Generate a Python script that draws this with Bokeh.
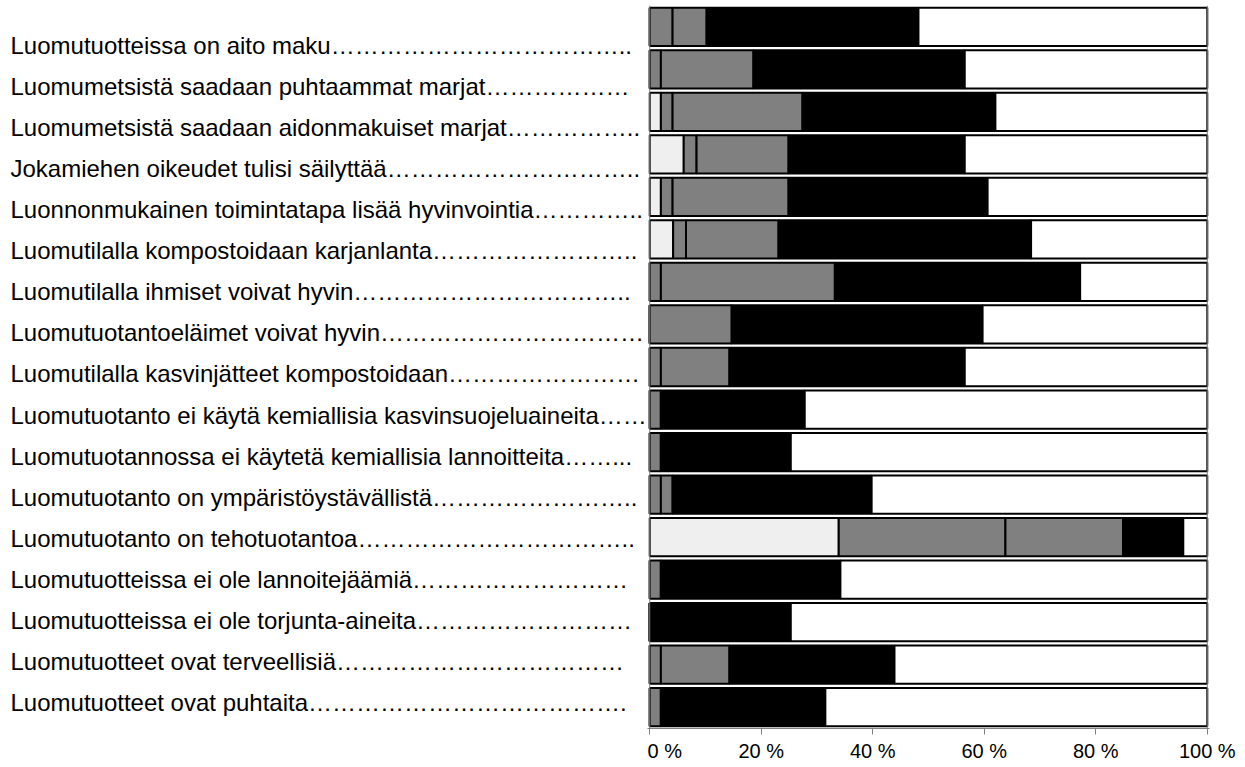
from bokeh.plotting import figure
from bokeh.models import ColumnDataSource, FactorRange, Range1d, FixedTicker, Span
from bokeh.layouts import row
from bokeh.core.properties import value
from bokeh.embed import file_html
from bokeh.resources import INLINE

E = "…"
labels = [
    "Luomutuotteissa on aito maku" + E * 12 + "..",
    "Luomumetsistä saadaan puhtaammat marjat" + E * 6,
    "Luomumetsistä saadaan aidonmakuiset marjat" + E * 5 + "..",
    "Jokamiehen oikeudet tulisi säilyttää" + E * 10 + "..",
    "Luonnonmukainen toimintatapa lisää hyvinvointia" + E * 4 + "..",
    "Luomutilalla kompostoidaan karjanlanta" + E * 8 + "..",
    "Luomutilalla ihmiset voivat hyvin" + E * 11 + "..",
    "Luomutuotantoeläimet voivat hyvin" + E * 11,
    "Luomutilalla kasvinjätteet kompostoidaan" + E * 8,
    "Luomutuotanto ei käytä kemiallisia kasvinsuojeluaineita" + E * 2,
    "Luomutuotannossa ei käytetä kemiallisia lannoitteita……...",
    "Luomutuotanto on ympäristöystävällistä" + E * 8 + "..",
    "Luomutuotanto on tehotuotantoa" + E * 11 + "..",
    "Luomutuotteissa ei ole lannoitejäämiä" + E * 9,
    "Luomutuotteissa ei ole torjunta-aineita" + E * 9,
    "Luomutuotteet ovat terveellisiä" + E * 12,
    "Luomutuotteet ovat puhtaita" + E * 13 + ".",
]

s1 = [0, 0, 2.0, 6.1, 2.0, 4.2, 0, 0, 0, 0, 0, 0, 33.9, 0, 0, 0, 0]
s2 = [4.1, 2.0, 2.1, 2.3, 2.1, 2.3, 2.0, 0, 2.0, 2.0, 2.0, 2.0, 29.9, 2.0, 0, 2.0, 2.0]
s3 = [6.1, 16.6, 23.3, 16.5, 20.8, 16.6, 31.2, 14.7, 12.3, 0, 0, 2.1, 21.1, 0, 0, 12.3, 0]
s4 = [38.0, 37.9, 34.6, 31.6, 35.7, 45.3, 44.0, 45.0, 42.2, 25.8, 23.3, 35.7, 10.8, 32.2, 25.3, 29.6, 29.5]
s5 = [51.8, 43.5, 38.0, 43.5, 39.4, 31.6, 22.8, 40.3, 43.5, 72.2, 74.7, 60.2, 4.3, 65.8, 74.7, 56.1, 68.5]

tick_values = [0, 20, 40, 60, 80, 100]
tick_labels = ["0 %", "20 %", "40 %", "60 %", "80 %", "100 %"]

seg_names = ["s1", "s2", "s3", "s4", "s5"]
seg_colors = ["#efefef", "#808080", "#808080", "#000000", "#ffffff"]

FONT = "Liberation Sans"

source = ColumnDataSource(dict(
    label=labels, pos=list(range(len(labels))),
    s1=s1, s2=s2, s3=s3, s4=s4, s5=s5,
))

# ---- label panel (left) ----
left = figure(
    frame_width=647, frame_height=723,
    x_range=Range1d(0, 647),
    y_range=Range1d(start=16.634, end=-0.974),
    x_axis_location=None, y_axis_location=None,
    output_backend="svg", toolbar_location=None,
    min_border_top=5, min_border_left=0, min_border_right=0, min_border_bottom=0,
)
left.outline_line_color = None
left.xgrid.visible = False
left.ygrid.visible = False
left.text(x=10, y="pos", text="label", source=source,
          text_font=value(FONT), text_font_size="24px",
          text_align="left", text_baseline="middle", text_color="#000000")

# ---- bars panel (right) ----
p = figure(
    frame_width=562, frame_height=723,
    x_range=Range1d(-0.4, 100.4),
    y_range=FactorRange(factors=labels[::-1], range_padding=0),
    y_axis_location=None,
    output_backend="svg", toolbar_location=None,
    min_border_top=5, min_border_left=0, min_border_right=30, min_border_bottom=0,
)
p.outline_line_color = None
p.xgrid.visible = False
p.ygrid.visible = False

p.hbar_stack(seg_names, y="label", height=0.9, source=source,
             fill_color=seg_colors, line_color="#000000", line_width=2)

p.add_layout(Span(location=0, dimension="height", line_color="#808080", line_width=1))
p.add_layout(Span(location=100, dimension="height", line_color="#808080", line_width=1))

p.xaxis.ticker = FixedTicker(ticks=tick_values)
p.xaxis.major_label_overrides = dict(zip(tick_values, tick_labels))
p.xaxis.axis_line_color = "#808080"
p.xaxis.major_tick_line_color = "#808080"
p.xaxis.major_tick_in = 0
p.xaxis.major_tick_out = 6
p.xaxis.minor_tick_line_color = None
p.xaxis.major_label_standoff = 5
p.xaxis.major_label_text_font = FONT
p.xaxis.major_label_text_font_size = "20px"
p.xaxis.major_label_text_color = "#000000"

layout = row(left, p, spacing=0)

open("out.html", "w").write(file_html(layout, INLINE))
